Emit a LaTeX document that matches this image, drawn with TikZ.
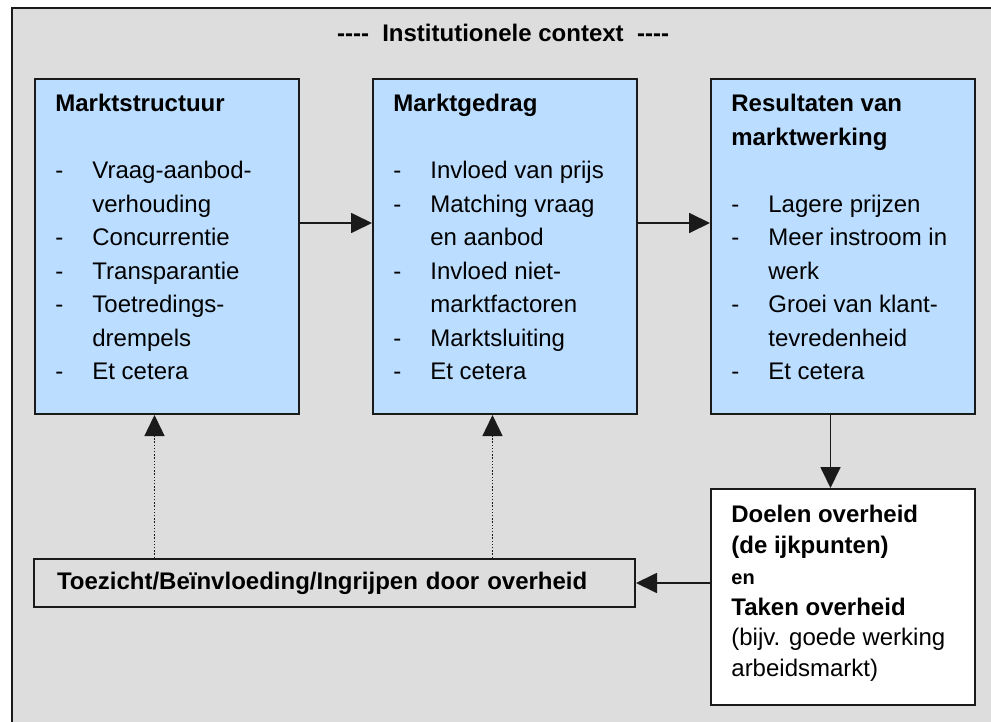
\documentclass[tikz,border=0pt]{standalone}
\usepackage{fontspec}
\setmainfont{Liberation Sans}
\usetikzlibrary{arrows.meta,positioning,calc}
\definecolor{mwGrey}{HTML}{DDDDDD}
\definecolor{mwBlue}{HTML}{BBDDFF}
\definecolor{mwLine}{HTML}{1A1A1A}
\tikzset{
  >={Triangle[length=10.5pt,width=10pt]},
  ctxframe/.style={draw=mwLine, line width=0.8pt, fill=mwGrey, inner sep=0pt},
  mbox/.style={draw=mwLine, line width=1pt, fill=mwBlue, inner sep=0pt,
              minimum width=132pt, minimum height=167.5pt},
  wbox/.style={draw=mwLine, line width=1pt, fill=white, inner sep=0pt},
  gbox/.style={draw=mwLine, line width=1pt, fill=mwGrey, inner sep=0pt},
  txt/.style={align=left, inner sep=0pt, anchor=north west,
              font=\fontsize{12}{16.75}\selectfont},
  ttl/.style={font=\fontsize{12}{14}\selectfont\bfseries},
  flow/.style={->, draw=mwLine, line width=0.9pt},
  infl/.style={->, draw=mwLine, line width=0.7pt, dash pattern=on 0.7pt off 0.9pt},
}
\newcommand{\itm}[1]{\makebox[18.5pt][l]{-}#1}
\newcommand{\cnt}[1]{\hspace*{18.5pt}#1}
\newcommand{\dsh}{\mbox{-}\mbox{-}\mbox{-}\mbox{-}}

\begin{document}
\begin{tikzpicture}[x=0.5pt,y=-0.5pt]
  \useasboundingbox (0,0) rectangle (991,722);
  % institutional context
  \node[ctxframe,minimum width=492pt,minimum height=359.5pt,anchor=north west] (ctx) at (11,7) {};
  \node[ttl] (ctxlbl) at (503,33) {\dsh\ \ Institutionele context\ \ \dsh};

  % the three market boxes
  \node[mbox] (ms) at (167,246.5) {};
  \node[mbox,right=36pt of ms] (mg) {};
  \node[mbox,right=36pt of mg] (res) {};
  \node[wbox,minimum width=132pt,minimum height=108pt,below=36.5pt of res] (doel) {};
  \node[gbox,minimum width=300.5pt,minimum height=24pt,inner xsep=11.5pt,text width=277.5pt,
        align=left,font=\fontsize{12}{14}\selectfont\bfseries] (toez) at (334.5,583)
        {Toezicht/Beïnvloeding/Ingrijpen door overheid};

  \node[txt] (ms-txt) at ([xshift=10.5pt,yshift=-8pt]ms.north west)
    {\textbf{Marktstructuur}\\[16.75pt]
     \itm{Vraag-aanbod-}\\ \cnt{verhouding}\\ \itm{Concurrentie}\\
     \itm{Transparantie}\\ \itm{Toetredings-}\\ \cnt{drempels}\\ \itm{Et cetera}};
  \node[txt] (mg-txt) at ([xshift=10.5pt,yshift=-8pt]mg.north west)
    {\textbf{Marktgedrag}\\[16.75pt]
     \itm{Invloed van prijs}\\ \itm{Matching vraag}\\ \cnt{en aanbod}\\
     \itm{Invloed niet-}\\ \cnt{marktfactoren}\\ \itm{Marktsluiting}\\ \itm{Et cetera}};
  \node[txt] (res-txt) at ([xshift=10.5pt,yshift=-8pt]res.north west)
    {\textbf{Resultaten van}\\ \textbf{marktwerking}\\[16.75pt]
     \itm{Lagere prijzen}\\ \itm{Meer instroom in}\\ \cnt{werk}\\
     \itm{Groei van klant-}\\ \cnt{tevredenheid}\\ \itm{Et cetera}};
  \node[txt,font=\fontsize{12}{15.4}\selectfont] (doel-txt) at ([xshift=10.5pt,yshift=-8.5pt]doel.north west)
    {\textbf{Doelen overheid}\\ \textbf{(de ijkpunten)}\\
     {\fontsize{10}{15.4}\selectfont\textbf{en}}\\ \textbf{Taken overheid}\\
     (bijv. goede werking\\ arbeidsmarkt)};

  % connectors
  \draw[flow] ([yshift=11.75pt]ms.east) -- ([yshift=11.75pt]mg.west);
  \draw[flow] ([yshift=11.75pt]mg.east) -- ([yshift=11.75pt]res.west);
  \draw[flow] ([xshift=-6.25pt]res.south) -- ([xshift=-6.25pt]res.south |- doel.north);
  \draw[flow] (doel.west |- toez.east) -- (toez.east);
  \foreach \b in {ms,mg}{
    \draw[infl] ([xshift=-6.25pt]\b.south |- toez.north) -- ([xshift=-6.25pt]\b.south);
  }
\end{tikzpicture}
\end{document}
